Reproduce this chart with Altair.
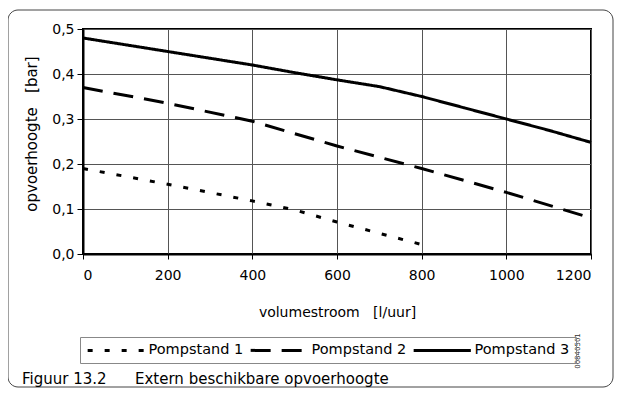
import altair as alt
import pandas as pd

# ---- data ----
series_names = ["Pompstand 1", "Pompstand 2", "Pompstand 3"]
q1 = [0, 200, 400, 500, 600, 800]
h1 = [0.19, 0.155, 0.118, 0.098, 0.071, 0.021]
q2 = [0, 200, 400, 600, 800, 1000, 1200]
h2 = [0.37, 0.335, 0.295, 0.24, 0.19, 0.137, 0.08]
q3 = [0, 200, 400, 500, 600, 700, 800, 900, 1000, 1100, 1200]
h3 = [0.48, 0.45, 0.42, 0.403, 0.387, 0.372, 0.35, 0.325, 0.30, 0.275, 0.248]
x_ticks = [0, 200, 400, 600, 800, 1000, 1200]
y_ticks = [0.0, 0.1, 0.2, 0.3, 0.4, 0.5]
NB = "\u00a0"
x_title = "volumestroom" + NB * 3 + "[l/uur]"
y_title = "opvoerhoogte" + NB * 3 + "[bar]"
caption_num = "Figuur 13.2"
caption_text = "Extern beschikbare opvoerhoogte"
code_text = "00840501"

rows = []
for name, qs, hs in zip(series_names, [q1, q2, q3], [h1, h2, h3]):
    for q, h in zip(qs, hs):
        rows.append({"serie": name, "q": q, "h": h})
df = pd.DataFrame(rows)

W, H = 508, 225
FONT = "DejaVu Sans"

lines = alt.Chart(df).mark_line(strokeWidth=3, color="black").encode(
    x=alt.X("q:Q", scale=alt.Scale(domain=[0, 1200], nice=False),
            axis=alt.Axis(values=x_ticks, format="d", title=x_title,
                          titleY=62, titleBaseline="alphabetic",
                          tickSize=5, labelPadding=9)),
    y=alt.Y("h:Q", scale=alt.Scale(domain=[0, 0.5], nice=False),
            axis=alt.Axis(values=y_ticks, title=None, tickSize=6, labelPadding=3,
                          labelExpr="replace(format(datum.value, '.1f'), '.', ',')")),
    strokeDash=alt.StrokeDash("serie:N",
        scale=alt.Scale(domain=series_names, range=[[5, 12], [20, 11], [1, 0]]),
        legend=alt.Legend(orient="none", legendX=-3, legendY=308, direction="horizontal",
                          title=None, symbolType="M-5.2,0H5.2", symbolSize=121,
                          symbolStrokeWidth=3, symbolStrokeColor="black",
                          symbolOffset=23, labelOffset=25,
                          labelFont=FONT, labelFontSize=14.5, labelColor="black",
                          strokeColor="#888", padding=6, columnPadding=0)),
)

one = alt.Data(values=[{"a": 1}])

frame = alt.Chart(one).mark_rect(fill=None, stroke="#444", strokeWidth=1, cornerRadius=10).encode(
    x=alt.value(-75), x2=alt.value(530), y=alt.value(-19), y2=alt.value(358))

ytitle = alt.Chart(alt.Data(values=[{"t": y_title}])).mark_text(
    angle=270, font=FONT, fontSize=15, align="center", baseline="middle", color="black"
).encode(text="t:N", x=alt.value(-51), y=alt.value(105))

cap1 = alt.Chart(alt.Data(values=[{"t": caption_num}])).mark_text(
    font=FONT, fontSize=15, align="left", baseline="alphabetic", color="black"
).encode(text="t:N", x=alt.value(22 - 83), y=alt.value(355))

cap2 = alt.Chart(alt.Data(values=[{"t": caption_text}])).mark_text(
    font=FONT, fontSize=15, align="left", baseline="alphabetic", color="black"
).encode(text="t:N", x=alt.value(135 - 83), y=alt.value(355))

code = alt.Chart(alt.Data(values=[{"t": code_text}])).mark_text(
    angle=270, font=FONT, fontSize=7, align="center", baseline="middle", color="#333"
).encode(text="t:N", x=alt.value(578 - 83), y=alt.value(351 - 29))

chart = alt.layer(frame, lines, ytitle, cap1, cap2, code).properties(
    width=W, height=H,
    autosize=alt.AutoSizeParams(type="none"),
    padding={"left": 75, "top": 21, "right": 24, "bottom": 134},
).configure_view(
    stroke="black", strokeWidth=2
).configure_axis(
    labelFont=FONT, labelFontSize=14, labelColor="black",
    titleFont=FONT, titleFontSize=14, titleColor="black", titleFontWeight="normal",
    domainColor="black", domainWidth=2, tickColor="black", tickWidth=1,
    grid=True, gridColor="#555", gridWidth=1,
).configure_axisX(labelAngle=0)

chart.save("out.html", embed_options={"renderer": "svg", "actions": False})
